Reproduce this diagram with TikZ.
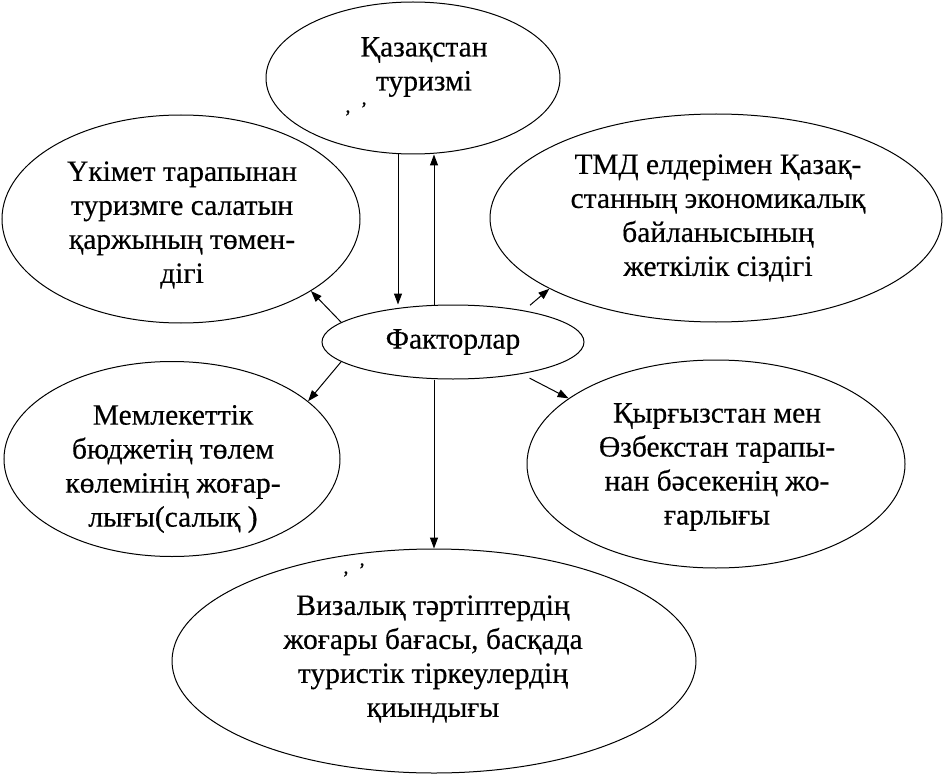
\documentclass[tikz,border=0pt]{standalone}
\usepackage{fontspec}
\setmainfont{Liberation Serif}[FakeBold=0.4]
\usetikzlibrary{shapes.geometric,arrows.meta}
\begin{document}
\begin{tikzpicture}[x=1pt,y=-1pt,
  oval/.style={draw,ellipse,line width=1pt,inner sep=0pt},
  lbl/.style={align=center,font=\fontsize{29.5}{34}\selectfont,inner sep=0pt},
  arr/.style={line width=1pt,-{Triangle[length=11pt,width=8pt]}},
  tickmark/.style={font=\fontsize{20}{20}\selectfont,inner sep=0pt}]
\useasboundingbox[fill=white] (0,0) rectangle (950,778);
% ellipses
\node[oval,minimum width=294pt,minimum height=152pt] (top) at (413,78) {};
\node[oval,minimum width=358pt,minimum height=208pt] (tl) at (181,219) {};
\node[oval,minimum width=452pt,minimum height=208pt] (tr) at (716,218) {};
\node[oval,minimum width=262pt,minimum height=74pt] (fac) at (453,342) {};
\node[oval,minimum width=336pt,minimum height=195pt] (bl) at (172,459) {};
\node[oval,minimum width=378pt,minimum height=208pt] (br) at (716,464) {};
\node[oval,minimum width=524pt,minimum height=224pt] (bot) at (434,661) {};
% texts
\node[lbl] (ttop) at (424,67) {Қазақстан\\туризмі};
\node[lbl] (ttl) at (182,225) {Үкімет тарапынан\\туризмге салатын\\қаржының төмен-\\дігі};
\node[lbl] (ttr) at (718,218) {ТМД елдерімен Қазақ-\\станның экономикалық\\байланысының\\жеткілік сіздігі};
\node[lbl] (tfac) at (453,342) {Факторлар};
\node[lbl] (tbl) at (173,469) {Мемлекеттік\\бюджетің төлем\\көлемінің жоғар-\\лығы(салық )};
\node[lbl] (tbr) at (717,467) {Қырғызстан мен\\Өзбекстан тарапы-\\нан бәсекенің жо-\\ғарлығы};
\node[lbl] (tbot) at (433,659) {Визалық тәртіптердің\\жоғары бағасы, басқада\\туристік тіркеулердің\\қиындығы};
% stray marks
\node[tickmark] (m1a) at (348,113) {,};
\node[tickmark] (m1b) at (364,109) {'};
\node[tickmark] (m2a) at (346,574) {,};
\node[tickmark] (m2b) at (362,570) {'};
% connectors
\draw[arr] ([xshift=-15pt]top.south) -- ([xshift=-15pt]top.south |- fac.north);
\draw[arr] ([xshift=21pt]top.south |- fac.north) -- ([xshift=21pt]top.south);
\draw[arr] (fac.170.5) -- (tl.-29);
\draw[arr,shorten <=8pt] (fac.24) -- (tr.-157.8);
\draw[arr] (fac.190.5) -- (bl.23.6);
\draw[arr,shorten <=9pt] (fac.-25.9) -- (br.156.4);
\draw[arr] (bot.north |- fac.south) -- (bot.north);
\end{tikzpicture}
\end{document}
